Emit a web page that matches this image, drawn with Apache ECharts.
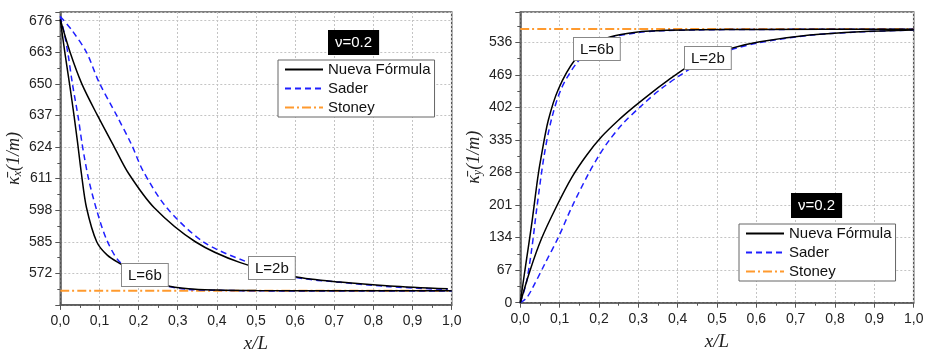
<!DOCTYPE html>
<html>
<head>
<meta charset="utf-8">
<script src="https://cdn.jsdelivr.net/npm/echarts@6/dist/echarts.min.js"></script>
<style>
html,body{margin:0;padding:0;background:#fff;}
#c{width:927px;height:349px;}
</style>
</head>
<body>
<div id="c"></div>
<script>
// ---------- Data ----------
var legendNames = ['Nueva Fórmula', 'Sader', 'Stoney'];
var xTickLabels = ['0,0','0,1','0,2','0,3','0,4','0,5','0,6','0,7','0,8','0,9','1,0'];

// Left panel: kappa_x vs x/L
var kxNF6x = [0, 0.012, 0.025, 0.035, 0.044, 0.054, 0.067, 0.093, 0.12, 0.155, 0.2, 0.267, 0.327, 0.4, 0.5, 0.7, 1.0];
var kxNF6y = [676.5, 662.5, 648.5, 637, 626, 613, 599, 585, 579.5, 575.8, 571.5, 567.2, 565.6, 565.1, 564.9, 564.8, 564.8];
var kxSa6x = [0, 0.01, 0.02, 0.031, 0.046, 0.056, 0.072, 0.093, 0.118, 0.15, 0.2, 0.267, 0.327, 0.4, 0.5, 0.7, 1.0];
var kxSa6y = [677.8, 671, 662, 650, 636, 625, 611, 598, 586, 577, 571.5, 567, 565.4, 565, 564.8, 564.7, 564.7];
var kxNF2x = [0, 0.025, 0.055, 0.095, 0.138, 0.175, 0.24, 0.345, 0.46, 0.6, 0.715, 0.842, 0.99];
var kxNF2y = [676.5, 663, 650, 637, 624, 613, 599, 585, 576.4, 570.6, 568.4, 566.8, 565.6];
var kxSa2x = [0, 0.03, 0.067, 0.098, 0.144, 0.182, 0.212, 0.272, 0.365, 0.472, 0.6, 0.715, 0.842, 0.99];
var kxSa2y = [677.8, 672, 663, 651, 637, 625, 614, 599, 585, 577, 570.4, 568.3, 566.5, 565.3];
var kxStX = [0, 1];
var kxStY = [564.8, 564.8];

// Right panel: kappa_y vs x/L
var kyNF6x = [0, 0.01, 0.02, 0.03, 0.044, 0.053, 0.071, 0.097, 0.139, 0.18, 0.228, 0.3, 0.35, 0.45, 0.6, 1.0];
var kyNF6y = [0, 57, 112, 168, 255, 300, 375, 440, 500, 528, 547, 557.5, 560, 561.8, 562.5, 562.8];
var kySa6x = [0, 0.015, 0.029, 0.042, 0.061, 0.08, 0.105, 0.143, 0.18, 0.228, 0.3, 0.35, 0.45, 0.6, 1.0];
var kySa6y = [0, 40, 110, 195, 305, 380, 442, 493, 522, 545, 556, 559.5, 561.5, 562.5, 562.8];
var kyNF2x = [0, 0.025, 0.054, 0.092, 0.131, 0.169, 0.207, 0.25, 0.287, 0.33, 0.376, 0.416, 0.47, 0.533, 0.609, 0.736, 0.864, 1.0];
var kyNF2y = [0, 67, 132, 198, 258, 304, 342, 376, 402, 430, 458, 481, 505, 523, 537, 551, 558, 561.5];
var kySa2x = [0, 0.015, 0.029, 0.063, 0.097, 0.131, 0.173, 0.2, 0.224, 0.26, 0.31, 0.359, 0.41, 0.47, 0.533, 0.609, 0.736, 0.864, 1.0];
var kySa2y = [0, 9, 27, 81, 135, 197, 265, 303, 332, 368, 407, 441, 470, 500, 520, 535.5, 550.5, 557.5, 561.3];
var kyStX = [0, 1];
var kyStY = [563.4, 563.4];

// ---------- Helpers ----------
function pts(xs, ys) { return xs.map(function (x, i) { return [x, ys[i]]; }); }
var SANS = 'Liberation Sans, Arial, sans-serif';
var SERIF = 'Liberation Serif, DejaVu Serif, serif';
var BLACK = '#000000', BLUE = '#1f1fff', ORANGE = '#ff9a2e';

function xAxisDef(idx) {
  return {
    type: 'value', gridIndex: idx, min: 0, max: 1, interval: 0.1,
    name: 'x/L', nameLocation: 'middle', nameGap: 30,
    nameTextStyle: { fontFamily: SERIF, fontStyle: 'italic', fontSize: 19, color: '#222' },
    axisLine: { show: true, lineStyle: { color: '#555', width: 1.5 } },
    axisTick: { show: true, inside: false, length: 5, lineStyle: { color: '#555' } },
    minorTick: { show: true, splitNumber: 2, length: 3, lineStyle: { color: '#555' } },
    axisLabel: { fontFamily: SANS, fontSize: 14, color: '#222', margin: 9,
      formatter: function (v) { return xTickLabels[Math.round(v * 10)] || ''; } },
    splitLine: { show: true, lineStyle: { color: '#c4c4c4', type: [2, 2], width: 1 } }
  };
}
function yAxisDef(idx, min, max, interval, sub, low, high) {
  return {
    type: 'value', gridIndex: idx, min: min, max: max, interval: interval,
    name: '{k|κ̄}{s|' + sub + '}{n|(1/m)}', nameLocation: 'middle', nameGap: 36,
    nameTextStyle: {
      rich: {
        k: { fontFamily: SERIF, fontStyle: 'italic', fontSize: 18, color: '#222', lineHeight: 20 },
        s: { fontFamily: SERIF, fontStyle: 'italic', fontSize: 12, color: '#222', lineHeight: 12, verticalAlign: 'bottom' },
        n: { fontFamily: SERIF, fontStyle: 'italic', fontSize: 18, color: '#222', lineHeight: 20 }
      }
    },
    axisLine: { show: true, lineStyle: { color: '#555', width: 1.5 } },
    axisTick: { show: true, inside: false, length: 5, lineStyle: { color: '#555' } },
    minorTick: { show: true, splitNumber: 2, length: 3, lineStyle: { color: '#555' } },
    axisLabel: { fontFamily: SANS, fontSize: 14, color: '#222', margin: 8,
      formatter: function (v) { return (v < low || v > high) ? '' : String(Math.round(v)); } },
    splitLine: { show: true, lineStyle: { color: '#c4c4c4', type: [2, 2], width: 1 } }
  };
}
function line(name, xi, data, color, type, width) {
  return {
    name: name, type: 'line', xAxisIndex: xi, yAxisIndex: xi, data: data,
    symbol: 'none', smooth: 0.3, animation: false,
    lineStyle: { color: color, type: type, width: width }, itemStyle: { color: color }
  };
}
function legendDef(left, top) {
  return {
    data: legendNames, orient: 'vertical', left: left, top: top,
    itemWidth: 38, itemHeight: 14, itemGap: 4,
    itemStyle: { opacity: 0 },
    backgroundColor: '#fff', borderColor: '#666', borderWidth: 1, borderRadius: 0,
    padding: [2, 4, 2, 6],
    textStyle: { fontFamily: SANS, fontSize: 15, color: '#111' }
  };
}
function boxText(txt, left, top, dark) {
  return {
    type: 'text', left: left, top: top, z: 100,
    style: dark ? {
      text: txt, fill: '#fff', backgroundColor: '#000', padding: [5, 7, 5, 7],
      font: '15px ' + SANS
    } : {
      text: txt, fill: '#111', backgroundColor: '#fff', borderColor: '#888', borderWidth: 1,
      padding: [4, 6, 3, 6], font: '15px ' + SANS
    }
  };
}

var chart = echarts.init(document.getElementById('c'), null, { renderer: 'canvas' });
chart.setOption({
  backgroundColor: '#fff',
  animation: false,
  grid: [
    { left: 60.3, top: 12, width: 391.4, height: 292.9, containLabel: false, outerBoundsMode: 'none', show: true, borderColor: '#555', borderWidth: 1.5, backgroundColor: 'transparent' },
    { left: 520.3, top: 12, width: 393.4, height: 290.7, containLabel: false, outerBoundsMode: 'none', show: true, borderColor: '#555', borderWidth: 1.5, backgroundColor: 'transparent' }
  ],
  xAxis: [xAxisDef(0), xAxisDef(1)],
  yAxis: [yAxisDef(0, 559, 679.6, 13, 'x', 570, 677), yAxisDef(1, 0, 598.4, 67, 'y', 0, 540)],
  legend: [legendDef(278, 60), legendDef(739, 224)],
  series: [
    line('Stoney', 0, pts(kxStX, kxStY), ORANGE, [9, 3, 2, 3], 2),
    line('Sader', 0, pts(kxSa6x, kxSa6y), BLUE, [6, 4], 1.5),
    line('Sader', 0, pts(kxSa2x, kxSa2y), BLUE, [6, 4], 1.5),
    line('Nueva Fórmula', 0, pts(kxNF6x, kxNF6y), BLACK, 'solid', 1.5),
    line('Nueva Fórmula', 0, pts(kxNF2x, kxNF2y), BLACK, 'solid', 1.5),
    line('Stoney', 1, pts(kyStX, kyStY), ORANGE, [9, 3, 2, 3], 2),
    line('Sader', 1, pts(kySa6x, kySa6y), BLUE, [6, 4], 1.5),
    line('Sader', 1, pts(kySa2x, kySa2y), BLUE, [6, 4], 1.5),
    line('Nueva Fórmula', 1, pts(kyNF6x, kyNF6y), BLACK, 'solid', 1.5),
    line('Nueva Fórmula', 1, pts(kyNF2x, kyNF2y), BLACK, 'solid', 1.5)
  ],
  graphic: [
    boxText('ν=0.2', 328, 30, true),
    boxText('ν=0.2', 791, 193, true),
    boxText('L=6b', 121, 263, false),
    boxText('L=2b', 248, 256, false),
    boxText('L=6b', 573, 37, false),
    boxText('L=2b', 684, 46, false)
  ]
});
</script>
</body>
</html>
